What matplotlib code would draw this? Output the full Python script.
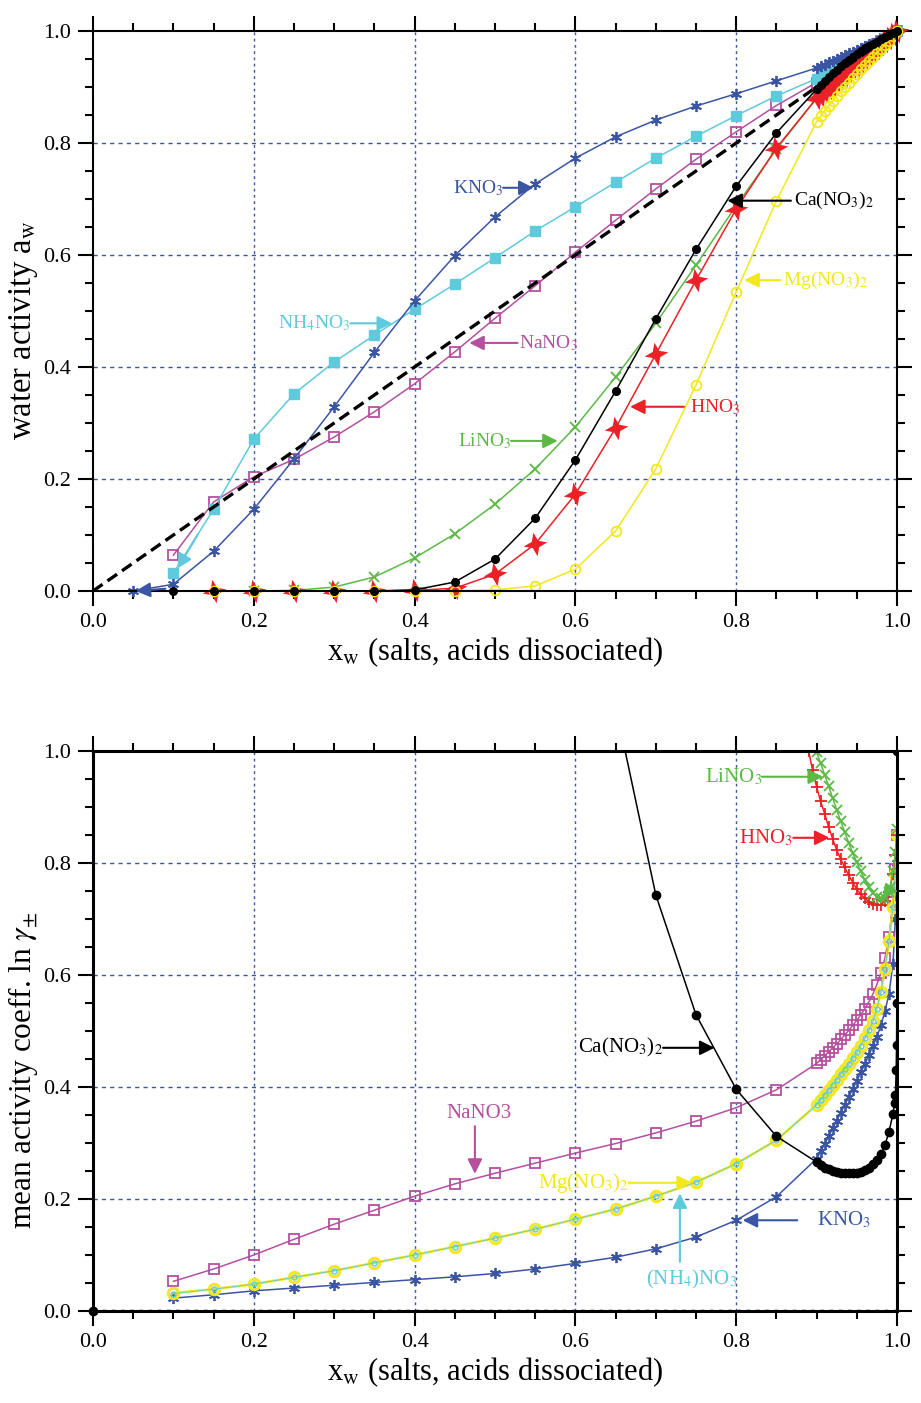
import numpy as np
import matplotlib
matplotlib.use('Agg')
import matplotlib.pyplot as plt
from matplotlib.ticker import MultipleLocator
from matplotlib.path import Path

plt.rcParams['font.family'] = ['Liberation Serif', 'DejaVu Serif']
plt.rcParams['mathtext.fontset'] = 'stix'

nan = np.nan

# ---- top panel: water activity vs x_w ----
x_top = [0.05, 0.10, 0.15, 0.20, 0.25, 0.30, 0.35, 0.40, 0.45, 0.50, 0.55, 0.60,
         0.65, 0.70, 0.75, 0.80, 0.85, 0.90,
         0.905, 0.91, 0.915, 0.92, 0.925, 0.93, 0.935, 0.94, 0.945, 0.95,
         0.955, 0.96, 0.965, 0.97, 0.975, 0.98, 0.985, 0.99, 0.995, 1.0]

aw_kno3 = [0.0, 0.012, 0.071, 0.146, 0.236, 0.329, 0.426, 0.518, 0.599, 0.668, 0.727, 0.773,
           0.811, 0.841, 0.866, 0.888, 0.911, 0.934,
           0.937, 0.940, 0.944, 0.947, 0.950, 0.953, 0.957, 0.960, 0.963, 0.966,
           0.970, 0.973, 0.976, 0.979, 0.983, 0.986, 0.989, 0.993, 0.996, 1.0]
aw_nh4no3 = [nan, 0.032, 0.146, 0.271, 0.352, 0.409, 0.457, 0.503, 0.548, 0.595, 0.643, 0.686,
             0.730, 0.773, 0.812, 0.849, 0.884, 0.915,
             0.919, 0.923, 0.928, 0.932, 0.936, 0.940, 0.945, 0.949, 0.953, 0.957,
             0.962, 0.966, 0.970, 0.974, 0.979, 0.983, 0.987, 0.991, 0.996, 1.0]
aw_nano3 = [nan, 0.064, 0.159, 0.204, 0.235, 0.275, 0.320, 0.370, 0.427, 0.487, 0.545, 0.605,
            0.662, 0.718, 0.771, 0.820, 0.867, 0.908,
            0.913, 0.917, 0.922, 0.926, 0.931, 0.936, 0.940, 0.945, 0.949, 0.954,
            0.959, 0.963, 0.968, 0.972, 0.977, 0.982, 0.986, 0.991, 0.995, 1.0]
aw_lino3 = [nan, nan, nan, 0.0, 0.001, 0.007, 0.025, 0.059, 0.102, 0.155, 0.218, 0.293,
            0.382, 0.478, 0.582, 0.688, 0.789, 0.880,
            0.886, 0.892, 0.898, 0.904, 0.910, 0.916, 0.922, 0.928, 0.934, 0.940,
            0.946, 0.952, 0.958, 0.964, 0.970, 0.976, 0.982, 0.988, 0.994, 1.0]
aw_ca = [nan, 0.0, 0.0, 0.0, 0.0, 0.0, 0.0, 0.002, 0.016, 0.057, 0.130, 0.234,
         0.357, 0.486, 0.610, 0.723, 0.818, 0.896,
         0.904, 0.911, 0.918, 0.925, 0.931, 0.937, 0.943, 0.949, 0.954, 0.959,
         0.964, 0.969, 0.973, 0.977, 0.981, 0.985, 0.989, 0.993, 0.996, 1.0]
aw_hno3 = [nan, nan, 0.0, 0.0, 0.0, 0.0, 0.0, 0.001, 0.005, 0.030, 0.084, 0.173,
           0.291, 0.423, 0.555, 0.682, 0.791, 0.880,
           0.886, 0.892, 0.898, 0.904, 0.910, 0.916, 0.922, 0.928, 0.934, 0.940,
           0.946, 0.952, 0.958, 0.964, 0.970, 0.976, 0.982, 0.988, 0.994, 1.0]
aw_mg = [nan, nan, 0.0, 0.0, 0.0, 0.0, 0.0, 0.0, 0.0, 0.002, 0.009, 0.039,
         0.107, 0.218, 0.368, 0.534, 0.697, 0.838,
         0.848, 0.857, 0.866, 0.875, 0.884, 0.892, 0.900, 0.908, 0.916, 0.924,
         0.932, 0.940, 0.947, 0.954, 0.961, 0.968, 0.975, 0.983, 0.991, 1.0]
ideal_x = [0.0, 1.0]
ideal_y = [0.0, 1.0]

# ---- bottom panel: ln gamma vs x_w ----
x_bot = [0.10, 0.15, 0.20, 0.25, 0.30, 0.35, 0.40, 0.45, 0.50, 0.55, 0.60, 0.65,
         0.70, 0.75, 0.80, 0.85, 0.90,
         0.905, 0.91, 0.915, 0.92, 0.925, 0.93, 0.935, 0.94, 0.945, 0.95,
         0.955, 0.96, 0.965, 0.97, 0.975, 0.98, 0.985, 0.99, 0.995, 0.998, 1.0]
lg_kno3 = [0.023, 0.029, 0.036, 0.041, 0.046, 0.051, 0.056, 0.061, 0.067, 0.075, 0.085, 0.096,
           0.111, 0.132, 0.162, 0.204, 0.272,
           0.285, 0.298, 0.312, 0.326, 0.340, 0.354, 0.368, 0.382, 0.397, 0.411,
           0.426, 0.441, 0.457, 0.473, 0.490, 0.510, 0.535, 0.566, 0.620, 0.700, 0.800]
lg_nano3 = [0.053, 0.075, 0.100, 0.128, 0.155, 0.180, 0.205, 0.227, 0.246, 0.264, 0.282, 0.299,
            0.318, 0.339, 0.363, 0.395, 0.442,
            0.449, 0.456, 0.463, 0.470, 0.477, 0.485, 0.493, 0.501, 0.510, 0.519,
            0.529, 0.540, 0.552, 0.566, 0.583, 0.604, 0.630, 0.668, 0.730, 0.790, 0.850]
lg_mg = [0.032, 0.039, 0.048, 0.060, 0.072, 0.086, 0.100, 0.115, 0.130, 0.146, 0.164, 0.182,
         0.205, 0.230, 0.263, 0.305, 0.368,
         0.377, 0.386, 0.395, 0.404, 0.413, 0.423, 0.432, 0.441, 0.451, 0.462,
         0.474, 0.487, 0.501, 0.517, 0.540, 0.570, 0.610, 0.660, 0.721, 0.780, 0.850]
lg_nh4no3 = [0.031, 0.039, 0.048, 0.060, 0.072, 0.086, 0.100, 0.115, 0.130, 0.146, 0.164, 0.182,
             0.205, 0.230, 0.263, 0.305, 0.368,
             0.377, 0.386, 0.395, 0.404, 0.413, 0.423, 0.432, 0.441, 0.451, 0.462,
             0.474, 0.487, 0.501, 0.517, 0.540, 0.570, 0.610, 0.660, 0.721, 0.780, 0.850]

x_ca = [0.65, 0.70, 0.75, 0.80, 0.85, 0.90,
        0.905, 0.91, 0.915, 0.92, 0.925, 0.93, 0.935, 0.94, 0.945, 0.95,
        0.955, 0.96, 0.965, 0.97, 0.975, 0.98, 0.985, 0.99, 0.995,
        0.997, 0.998, 0.999, 0.9995, 0.9998, 1.0]
lg_ca = [1.08, 0.743, 0.529, 0.396, 0.312, 0.266,
         0.260, 0.256, 0.253, 0.250, 0.248, 0.247, 0.246, 0.246, 0.246, 0.247,
         0.249, 0.252, 0.256, 0.262, 0.270, 0.281, 0.296, 0.320, 0.352,
         0.372, 0.385, 0.430, 0.475, 0.550, 1.0]
x_zero = [0.0, 1.0]
lg_zero = [0.0, 0.0]

x_li = [0.895, 0.90, 0.905, 0.91, 0.915, 0.92, 0.925, 0.93, 0.935, 0.94, 0.945, 0.95,
        0.955, 0.96, 0.965, 0.97, 0.975, 0.98, 0.985, 0.99, 0.995, 0.998, 1.0]
lg_lino3 = [1.03, 0.998, 0.978, 0.958, 0.937, 0.916, 0.895, 0.875, 0.855, 0.836, 0.818, 0.801,
            0.785, 0.770, 0.757, 0.747, 0.740, 0.737, 0.738, 0.748, 0.785, 0.820, 0.860]

x_h = [0.885, 0.89, 0.895, 0.90, 0.905, 0.91, 0.915, 0.92, 0.925, 0.93, 0.935, 0.94, 0.945,
       0.95, 0.955, 0.96, 0.965, 0.97, 0.975, 0.98, 0.985, 0.99, 0.995, 0.998, 1.0]
lg_hno3 = [1.03, 1.0, 0.966, 0.936, 0.910, 0.888, 0.864, 0.843, 0.823, 0.807, 0.792, 0.778, 0.765,
           0.753, 0.744, 0.737, 0.731, 0.727, 0.725, 0.725, 0.733, 0.748, 0.780, 0.815, 0.850]

c_k = '#3a55a4'
c_nh4 = '#5ecbdc'
c_na = '#b5509f'
c_li = '#5cb946'
c_h = '#ec2027'
c_mg = '#f2e81a'
c_grid = '#3a55a4'
asterisk = (6, 2, 0)

# 4 pointed concave star for HNO3
ang = np.deg2rad(np.arange(8) * 45 + 100)
rad = np.where(np.arange(8) % 2 == 0, 1.0, 0.38)
star_verts = np.column_stack([rad * np.cos(ang), rad * np.sin(ang)])
star4 = Path(np.vstack([star_verts, star_verts[:1]]), closed=True)


def style_axes(ax, spine_w):
    ax.set_xlim(0, 1)
    ax.set_ylim(0, 1)
    ax.xaxis.set_major_locator(MultipleLocator(0.2))
    ax.xaxis.set_minor_locator(MultipleLocator(0.05))
    ax.yaxis.set_major_locator(MultipleLocator(0.2))
    ax.yaxis.set_minor_locator(MultipleLocator(0.05))
    ax.tick_params(which='both', direction='out', top=True, right=True,
                   width=1.5, labelsize=16, pad=5)
    ax.tick_params(which='major', length=11)
    ax.tick_params(which='minor', length=5.5)
    for s in ax.spines.values():
        s.set_linewidth(spine_w)
    for v in [0.2, 0.4, 0.6, 0.8]:
        ax.axvline(v, color=c_grid, lw=1.0, ls=(0, (2, 2.5)), zorder=0)
        ax.axhline(v, color=c_grid, lw=1.0, ls=(0, (3, 3)), zorder=0)
    ax.set_xlabel(r'x$_\mathrm{w}$ (salts, acids dissociated)', fontsize=22, labelpad=2)


def arrow(ax, x0, y0, x1, y1, color):
    ax.annotate('', xy=(x1, y1), xytext=(x0, y0),
                arrowprops=dict(arrowstyle='-|>', color=color, lw=1.5,
                                mutation_scale=22, shrinkA=0, shrinkB=0))


fig = plt.figure(figsize=(9.21, 14.03), dpi=100)
ax1 = fig.add_axes([93 / 921, 812 / 1403, 804 / 921, 560 / 1403])
ax2 = fig.add_axes([93 / 921, 92 / 1403, 804 / 921, 560 / 1403])

# ---------- top ----------
style_axes(ax1, 1.5)
ax1.set_ylabel(r'water activity a$_\mathrm{w}$', fontsize=23.5)
ax1.yaxis.set_label_coords(-0.066, 0.465)
kw = dict(lw=1.1, clip_on=False)
ax1.plot(x_top, aw_nano3, color=c_na, marker='s', ms=7, mfc='none', mew=1.3, **kw)
ax1.plot(x_top, aw_nh4no3, color=c_nh4, marker='s', ms=7, **kw)
ax1.plot(x_top, aw_kno3, color=c_k, marker=asterisk, ms=8, mew=1.3, **kw)
ax1.plot(ideal_x, ideal_y, color='black', lw=2.4, dashes=[3.5, 1.8], zorder=3)
ax1.plot(x_top, aw_lino3, color=c_li, marker='x', ms=7, mew=1.3, **kw)
ax1.plot(x_top, aw_hno3, color=c_h, marker=star4, ms=17, mew=0, **kw)
ax1.plot(x_top, aw_mg, color=c_mg, marker='o', ms=7, mfc='none', mew=1.3, **kw)
ax1.plot(x_top, aw_ca, color='black', marker='o', ms=5.5, **kw)

fs1 = 14
ax1.text(0.51, 0.72, r'KNO$_3$', color=c_k, fontsize=fs1, ha='right', va='center')
arrow(ax1, 0.51, 0.72, 0.548, 0.72, c_k)
ax1.text(0.32, 0.478, r'NH$_4$NO$_3$', color=c_nh4, fontsize=fs1, ha='right', va='center')
arrow(ax1, 0.32, 0.478, 0.372, 0.478, c_nh4)
arrow(ax1, 0.13, 0.10, 0.105, 0.04, c_nh4)
arrow(ax1, 0.09, 0.004, 0.053, 0.0, c_k)
ax1.text(0.53, 0.443, r'NaNO$_3$', color=c_na, fontsize=fs1, ha='left', va='center')
arrow(ax1, 0.528, 0.443, 0.468, 0.443, c_na)
ax1.text(0.872, 0.697, r'Ca(NO$_3$)$_2$', color='black', fontsize=fs1, ha='left', va='center')
arrow(ax1, 0.868, 0.697, 0.789, 0.697, 'black')
ax1.text(0.858, 0.555, r'Mg(NO$_3$)$_2$', color=c_mg, fontsize=fs1, ha='left', va='center')
arrow(ax1, 0.855, 0.555, 0.81, 0.555, c_mg)
ax1.text(0.742, 0.329, r'HNO$_3$', color=c_h, fontsize=fs1, ha='left', va='center')
arrow(ax1, 0.735, 0.329, 0.668, 0.329, c_h)
ax1.text(0.52, 0.268, r'LiNO$_3$', color=c_li, fontsize=fs1, ha='right', va='center')
arrow(ax1, 0.52, 0.268, 0.578, 0.268, c_li)

# ---------- bottom ----------
style_axes(ax2, 2.2)
ax2.set_ylabel(r'mean activity coeff. ln $\gamma_{\pm}$', fontsize=22.5)
ax2.yaxis.set_label_coords(-0.066, 0.43)
ax2.plot(x_zero, lg_zero, color='black', lw=2.5, ls=':', zorder=2)
ax2.plot(x_zero[:1], lg_zero[:1], color='black', marker='o', ms=6, clip_on=False, zorder=4)
ax2.plot(x_bot, lg_kno3, color=c_k, marker=asterisk, ms=8, mew=1.3, lw=1.1)
ax2.plot(x_bot, lg_nano3, color=c_na, marker='s', ms=7, mfc='none', mew=1.3, lw=1.1)
ax2.plot(x_bot, lg_mg, color=c_mg, marker='o', ms=7.5, mfc='none', mew=2.2, lw=1.8)
ax2.plot(x_bot, lg_nh4no3, color=c_nh4, marker='o', ms=3.5, mfc='none', mew=1.0, lw=0.6)
ax2.plot(x_h, lg_hno3, color=c_h, marker='+', ms=8, mew=1.3, lw=1.1)
ax2.plot(x_li, lg_lino3, color=c_li, marker='x', ms=7, mew=1.3, lw=1.1)
ax2.plot(x_ca, lg_ca, color='black', marker='o', ms=6, lw=1.1)

fs2 = 15
ax2.text(0.832, 0.954, r'LiNO$_3$', color=c_li, fontsize=fs2, ha='right', va='center')
arrow(ax2, 0.832, 0.954, 0.908, 0.954, c_li)
ax2.text(0.871, 0.845, r'HNO$_3$', color=c_h, fontsize=fs2, ha='right', va='center')
arrow(ax2, 0.871, 0.845, 0.916, 0.845, c_h)
arrow(ax2, 0.997, 0.765, 0.982, 0.735, c_li)
ax2.text(0.709, 0.47, r'Ca(NO$_3$)$_2$', color='black', fontsize=fs2, ha='right', va='center')
arrow(ax2, 0.709, 0.47, 0.773, 0.47, 'black')
ax2.text(0.48, 0.352, 'NaNO3', color=c_na, fontsize=fs2, ha='center', va='center')
arrow(ax2, 0.475, 0.33, 0.475, 0.245, c_na)
ax2.text(0.666, 0.229, r'Mg(NO$_3$)$_2$', color=c_mg, fontsize=fs2, ha='right', va='center')
arrow(ax2, 0.666, 0.229, 0.745, 0.229, c_mg)
ax2.text(0.745, 0.057, r'(NH$_4$)NO$_3$', color=c_nh4, fontsize=fs2, ha='center', va='center')
arrow(ax2, 0.73, 0.088, 0.73, 0.21, c_nh4)
ax2.text(0.9, 0.162, r'KNO$_3$', color=c_k, fontsize=fs2, ha='left', va='center')
arrow(ax2, 0.876, 0.162, 0.808, 0.162, c_k)

fig.savefig('out.png', dpi=100)
